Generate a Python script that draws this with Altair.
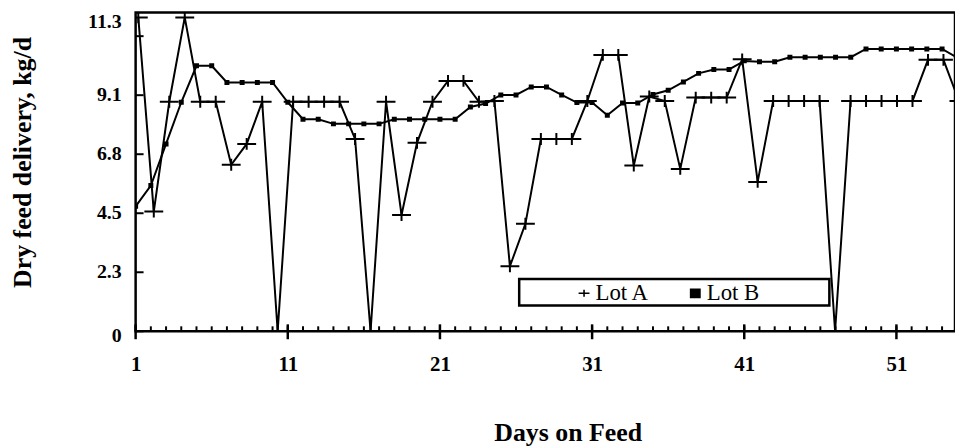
import altair as alt
import pandas as pd

# ---- data ----
# Lot A: 54 samples (its points are spaced slightly wider than Lot B's days)
lot_a_values = [12.06, 4.6, 8.82, 12.06, 8.82, 8.82, 6.4, 7.2, 8.82, 0,
                8.82, 8.82, 8.82, 8.82, 7.39, 0, 8.82, 4.47, 7.24, 8.82,
                9.62, 9.62, 8.82, 8.85, 2.5, 4.13, 7.39, 7.39, 7.39, 8.85,
                10.62, 10.62, 6.37, 9.02, 8.85, 6.24, 8.98, 8.98, 8.98, 10.45,
                5.74, 8.85, 8.85, 8.85, 8.85, 0, 8.85, 8.85, 8.85, 8.85,
                8.85, 10.43, 10.43, 8.85]
lot_a_index = list(range(1, len(lot_a_values) + 1))

# Lot B: days 1..55
lot_b_values = [4.8, 5.6, 7.2, 8.8, 10.2, 10.2, 9.56, 9.56, 9.56, 9.56,
                8.8, 8.15, 8.15, 7.97, 7.97, 7.97, 7.97, 8.15, 8.15, 8.15,
                8.15, 8.15, 8.62, 8.75, 9.08, 9.08, 9.39, 9.39, 9.08, 8.79,
                8.79, 8.3, 8.77, 8.77, 9.1, 9.26, 9.58, 9.91, 10.06, 10.06,
                10.39, 10.36, 10.36, 10.53, 10.53, 10.53, 10.53, 10.53, 10.85, 10.85,
                10.85, 10.85, 10.85, 10.85, 10.51]
lot_b_days = list(range(1, len(lot_b_values) + 1))

x_label_days = [1, 11, 21, 31, 41, 51]
x_minor_days = list(range(1, 55))
y_tick_kg = [0, 2.268, 4.536, 6.804, 9.072, 11.34]
y_tick_labels = ["0", "2.3", "4.5", "6.8", "9.1", "11.3"]
series_names = ["Lot A", "Lot B"]

df_a = pd.DataFrame({"idx": lot_a_index, "value": lot_a_values, "lot": "Lot A"})
df_b = pd.DataFrame({"day": lot_b_days, "value": lot_b_values, "lot": "Lot B"})
df_xmin = pd.DataFrame({"day": x_minor_days})
df_xmaj = pd.DataFrame({"day": x_label_days})
df_yt = pd.DataFrame({"value": y_tick_kg})

W, H = 825, 321
SERIF = "Liberation Serif"
PLUS = "M-1,0L1,0M0,-0.63L0,0.63"
# a stroked symbol that reads as a solid block (legend entry for Lot B)
BLOCK = "".join(f"M-1,{y}H1" for y in ["-0.75", "-0.5", "-0.25", "0", "0.25", "0.5", "0.75"])

x_b = alt.Scale(domain=[1, 54.85], nice=False, zero=False)
x_a = alt.Scale(domain=[0.827, 53.745], nice=False, zero=False)
y_s = alt.Scale(domain=[0, 12.25], nice=False, zero=False)

# label expression from the label lists
expr = "'" + y_tick_labels[-1] + "'"
for v, l in reversed(list(zip(y_tick_kg[:-1], y_tick_labels[:-1]))):
    expr = f"datum.value < {v + 0.05} ? '{l}' : ({expr})"

x_axis = alt.Axis(values=x_label_days, title="Days on Feed", ticks=False, tickSize=0,
                  domain=False, grid=False, labelFlush=False, labelOverlap=False,
                  labelPadding=39.5, labelBaseline="alphabetic",
                  labelFont=SERIF, labelFontSize=21, labelFontWeight="bold", labelColor="black",
                  titleFont=SERIF, titleFontSize=26, titleFontWeight="bold", titleColor="black",
                  titleX=435, titleY=110, titleAlign="center", titleBaseline="alphabetic")
y_axis = alt.Axis(values=y_tick_kg, labelExpr=expr, ticks=False, tickSize=0,
                  domain=False, grid=False, labelOverlap=False, labelPadding=14.5,
                  labelFont=SERIF, labelFontSize=20, labelFontWeight="bold", labelColor="black",
                  labelBaseline="middle",
                  labelOffset={"condition": [{"test": "datum.value > 11", "value": -15},
                                             {"test": "datum.value < 1", "value": 4}],
                               "value": -1},
                  title="Dry feed delivery, kg/d",
                  titleFont=SERIF, titleFontSize=26, titleFontWeight="bold", titleColor="black",
                  titleAngle=270, titleX=-106, titleY=150.5, titleAlign="center",
                  titleBaseline="alphabetic")

Y = alt.Y("value:Q", scale=y_s, axis=y_axis)

line_b = alt.Chart(df_b).mark_line(color="black", strokeWidth=2, clip=True).encode(
    x=alt.X("day:Q", scale=x_b, axis=x_axis), y=Y)
pts_b = alt.Chart(df_b).mark_point(shape="square", filled=True, color="black",
                                   opacity=1, size=25, clip=True).encode(
    x=alt.X("day:Q", scale=x_b, axis=None), y=Y)
line_a = alt.Chart(df_a).mark_line(color="black", strokeWidth=2, clip=True).encode(
    x=alt.X("idx:Q", scale=x_a, axis=None), y=Y)
pts_a = alt.Chart(df_a).mark_point(filled=False, color="black",
                                   strokeWidth=2, opacity=1, size=361, clip=True).encode(
    x=alt.X("idx:Q", scale=x_a, axis=None), y=Y,
    shape=alt.Shape("lot:N", scale=alt.Scale(domain=series_names, range=[PLUS, BLOCK]),
                    legend=alt.Legend(orient="none", legendX=440, legendY=271,
                                      direction="horizontal", title=None, padding=0,
                                      labelFont=SERIF, labelFontSize=23, labelColor="black",
                                      symbolSize=120, symbolStrokeWidth=1.6,
                                      symbolStrokeColor="black",
                                      columnPadding=34, labelOffset=0)),
)

yticks = alt.Chart(df_yt).mark_rule(color="black", strokeWidth=2).encode(
    y=Y, x=alt.value(0), x2=alt.value(8))
xminor = alt.Chart(df_xmin).mark_rule(color="black", strokeWidth=2).encode(
    x=alt.X("day:Q", scale=x_b, axis=None), y=alt.value(H - 5), y2=alt.value(H))
xmajor = alt.Chart(df_xmaj).mark_rule(color="black", strokeWidth=2.5).encode(
    x=alt.X("day:Q", scale=x_b, axis=None), y=alt.value(H - 7), y2=alt.value(H + 8))

legend_box = alt.Chart(pd.DataFrame({"k": [0]})).mark_rect(
    fill="white", stroke="black", strokeWidth=2.5).encode(
    x=alt.value(386.2), x2=alt.value(698.5), y=alt.value(268.3), y2=alt.value(295))

chart = alt.layer(
    yticks, xminor, xmajor, line_b, line_a, pts_b, pts_a, legend_box
).resolve_scale(x="independent").properties(
    width=W, height=H,
    padding={"left": 128.5, "top": 3, "right": 0, "bottom": 116},
    autosize=alt.AutoSizeParams(type="none"),
    background="white",
).configure_view(stroke="black", strokeWidth=2.5)

chart.save("out.html", embed_options={"renderer": "svg", "actions": False})
